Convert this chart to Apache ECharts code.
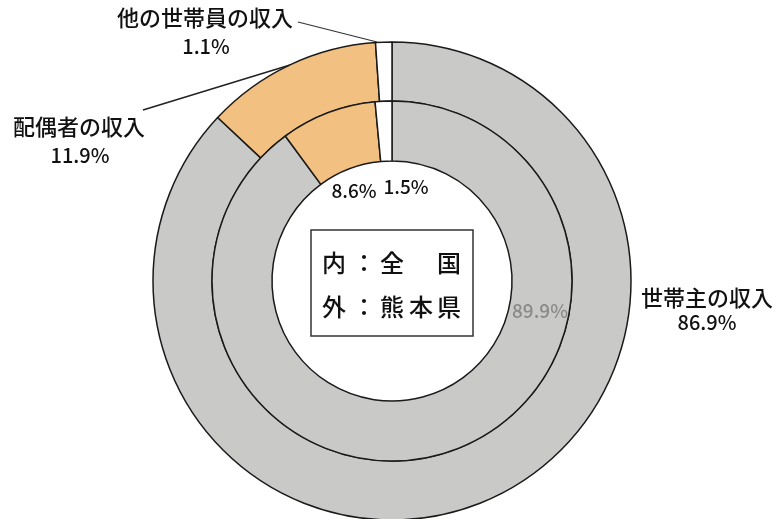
<!DOCTYPE html>
<html><head><meta charset="utf-8">
<script src="https://cdn.jsdelivr.net/npm/echarts@6/dist/echarts.min.js"></script>
<style>html,body{margin:0;padding:0;background:#fff}#c{width:777px;height:519px}</style>
</head><body><div id="c"></div>
<script>
var categories = ['世帯主の収入', '配偶者の収入', '他の世帯員の収入'];
var outerValues = [86.9, 11.9, 1.1];   // 外：熊本県
var innerValues = [89.9, 8.6, 1.5];    // 内：全国
var colors = ['#c9c9c7', '#f2c080', '#ffffff'];
var legendLine1 = ['内', '：', '全', '', '国'];
var legendLine2 = ['外', '：', '熊', '本', '県'];

var chart = echarts.init(document.getElementById('c'), null, {renderer: 'canvas'});
var FONT = '"Noto Sans CJK JP", "Noto Sans", sans-serif';
function mk(vals) {
  return vals.map(function (v, i) {
    return {name: categories[i], value: v, itemStyle: {color: colors[i]}};
  });
}
function pct(v) { return v.toFixed(1) + '%'; }
function txt(t, x, y, size, color) {
  return {type: 'text', x: x, y: y, z: 10,
    style: {text: t, font: '500 ' + size + 'px ' + FONT, fill: color || '#111',
      textAlign: 'center', textVerticalAlign: 'middle'}};
}
var g = [];
// outer labels
g.push(txt(categories[0], 707, 298, 22));
g.push(txt(pct(outerValues[0]), 707, 322, 20));
g.push(txt(categories[1], 79, 127, 22));
g.push(txt(pct(outerValues[1]), 80, 155, 20));
g.push(txt(categories[2], 205, 18, 22));
g.push(txt(pct(outerValues[2]), 206, 46, 20));
// inner labels
g.push(txt(pct(innerValues[0]), 540, 311, 19, '#8a8a8a'));
g.push(txt(pct(innerValues[1]), 354, 191, 19));
g.push(txt(pct(innerValues[2]), 406, 187, 19));
// leader lines
g.push({type: 'line', z: 5, shape: {x1: 298, y1: 22, x2: 377, y2: 42}, style: {stroke: '#333', lineWidth: 1.2}});
g.push({type: 'line', z: 5, shape: {x1: 143, y1: 110, x2: 290, y2: 65}, style: {stroke: '#222', lineWidth: 1.5}});
// legend box
g.push({type: 'rect', z: 8, shape: {x: 311, y: 230, width: 162, height: 106},
  style: {fill: '#fff', stroke: '#333', lineWidth: 1.5}});
var xs = [334, 364, 392, 421, 449];
legendLine1.forEach(function (c, i) { if (c) g.push(txt(c, xs[i], 263, 24)); });
legendLine2.forEach(function (c, i) { if (c) g.push(txt(c, xs[i], 307, 24)); });

var base = {
  type: 'pie', center: [392, 281], startAngle: 90, clockwise: true,
  label: {show: false}, labelLine: {show: false}, silent: true,
  emphasis: {disabled: true}, animation: false,
  itemStyle: {borderColor: '#1a1a1a', borderWidth: 1.5}
};
chart.setOption({
  backgroundColor: '#fff',
  animation: false,
  series: [
    Object.assign({}, base, {name: '熊本県', radius: [180, 239], data: mk(outerValues)}),
    Object.assign({}, base, {name: '全国', radius: [120, 180], data: mk(innerValues)})
  ],
  graphic: g
});
</script></body></html>
